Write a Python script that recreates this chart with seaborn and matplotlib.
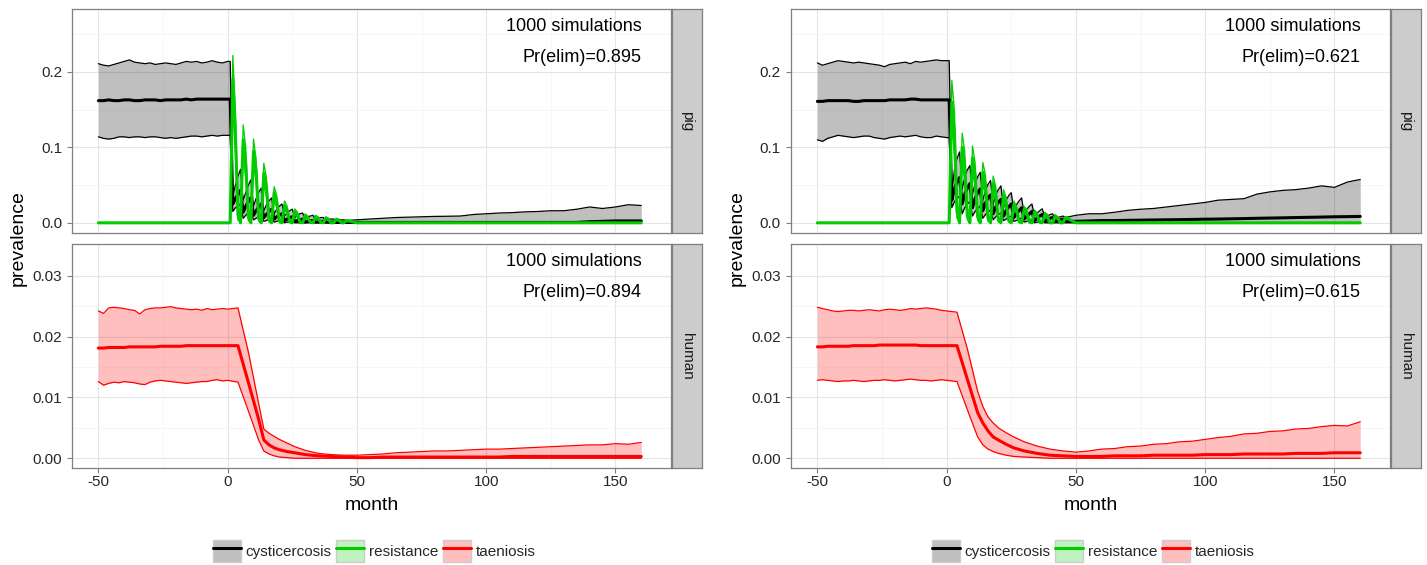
import matplotlib
matplotlib.use("Agg")
import matplotlib.pyplot as plt
import matplotlib.transforms as mtransforms
from matplotlib.patches import Patch
from matplotlib.lines import Line2D
import seaborn as sns

sns.set_theme(style="white")
plt.rcParams["font.family"] = ["Liberation Sans", "DejaVu Sans"]

# ---------------------------------------------------------------- data
# month grids (pig series need monthly resolution during the treatment rounds)
PIG_MONTHS = list(range(-50, 1, 2)) + list(range(1, 47)) + list(range(50, 161, 5))
HUMAN_MONTHS = (list(range(-50, 1, 2))
                + [4, 8, 12, 14, 16, 18, 20, 23, 26, 30, 35, 40, 45]
                + list(range(50, 161, 5)))

SERIES = ["cysticercosis", "resistance", "taeniosis"]
ROWS = ["pig", "human"]
SIM_TEXT = ["1000 simulations", "1000 simulations"]
ELIM_PIG = ["Pr(elim)=0.895", "Pr(elim)=0.621"]
ELIM_HUMAN = ["Pr(elim)=0.894", "Pr(elim)=0.615"]

X_TICKS = [-50, 0, 50, 100, 150]
X_TICK_LABELS = ["-50", "0", "50", "100", "150"]
PIG_Y_TICKS = [0.0, 0.1, 0.2]
PIG_Y_LABELS = ["0.0", "0.1", "0.2"]
HUMAN_Y_TICKS = [0.0, 0.01, 0.02, 0.03]
HUMAN_Y_LABELS = ["0.00", "0.01", "0.02", "0.03"]

# ---- scenario A (left) : pig cysticercosis
CYST_HI_A = ([0.211, 0.209, 0.208, 0.210, 0.212, 0.214, 0.216, 0.213, 0.212, 0.211, 0.212, 0.210, 0.211,
              0.212, 0.211, 0.210, 0.212, 0.214, 0.213, 0.214, 0.212, 0.213, 0.215, 0.213, 0.212, 0.214]
             + [0.214, 0.035, 0.050, 0.062,
                0.071, 0.030, 0.040, 0.050,
                0.057, 0.022, 0.032, 0.040,
                0.046, 0.016, 0.024, 0.029,
                0.033, 0.012, 0.018, 0.022,
                0.025, 0.009, 0.013, 0.016,
                0.018, 0.007, 0.010, 0.012,
                0.013, 0.005, 0.008, 0.009,
                0.010, 0.004, 0.006, 0.007,
                0.007, 0.003, 0.005, 0.005,
                0.005, 0.003, 0.004, 0.004,
                0.004, 0.003]
             + [0.004, 0.005, 0.006, 0.007, 0.0075, 0.008, 0.0085, 0.0087, 0.009, 0.011, 0.012, 0.013,
                0.0135, 0.0145, 0.015, 0.016, 0.016, 0.018, 0.021, 0.019, 0.021, 0.024, 0.023])
CYST_MED_A = ([0.162, 0.162, 0.163, 0.162, 0.162, 0.163, 0.163, 0.162, 0.162, 0.163, 0.163, 0.163, 0.162,
               0.163, 0.163, 0.163, 0.163, 0.164, 0.163, 0.164, 0.164, 0.164, 0.164, 0.164, 0.164, 0.164]
              + [0.164, 0.025, 0.032, 0.038,
                 0.043, 0.014, 0.022, 0.028,
                 0.033, 0.010, 0.016, 0.021,
                 0.025, 0.007, 0.011, 0.015,
                 0.018, 0.005, 0.008, 0.010,
                 0.012, 0.003, 0.005, 0.007,
                 0.008, 0.002, 0.003, 0.004,
                 0.005, 0.001, 0.002, 0.003,
                 0.003, 0.001, 0.001, 0.002,
                 0.002, 0.001, 0.001, 0.001,
                 0.001, 0.0005, 0.0005, 0.0005,
                 0.0005, 0.0005]
              + [0.0005, 0.0005, 0.0005, 0.0005, 0.0005, 0.0005, 0.0005, 0.0005, 0.0005, 0.0005, 0.0005,
                 0.0005, 0.0005, 0.0005, 0.0005, 0.0005, 0.0005, 0.0005, 0.0015, 0.002, 0.0025, 0.0025, 0.0025])
CYST_LO_A = ([0.114, 0.112, 0.111, 0.112, 0.114, 0.114, 0.113, 0.114, 0.114, 0.113, 0.114, 0.114, 0.113,
              0.112, 0.113, 0.112, 0.113, 0.114, 0.115, 0.115, 0.114, 0.115, 0.116, 0.115, 0.116, 0.116]
             + [0.116, 0.015, 0.020, 0.022,
                0.025, 0.006, 0.010, 0.013,
                0.015, 0.004, 0.006, 0.008,
                0.010, 0.002, 0.003, 0.005,
                0.006, 0.001, 0.002, 0.003,
                0.003, 0.0, 0.001, 0.001,
                0.001, 0.0, 0.0, 0.0,
                0.0, 0.0, 0.0, 0.0,
                0.0, 0.0, 0.0, 0.0,
                0.0, 0.0, 0.0, 0.0,
                0.0, 0.0, 0.0, 0.0,
                0.0, 0.0]
             + [0.0] * 23)

# ---- scenario A (left) : pig resistance
RES_HI_A = ([0.0] * 26
            + [0.0, 0.222, 0.150, 0.020,
               0.0, 0.130, 0.100, 0.015,
               0.0, 0.111, 0.085, 0.012,
               0.0, 0.079, 0.060, 0.008,
               0.0, 0.048, 0.036, 0.005,
               0.0, 0.029, 0.022, 0.004,
               0.0, 0.0185, 0.014, 0.003,
               0.0, 0.012, 0.009, 0.002,
               0.0, 0.010, 0.008, 0.002,
               0.0, 0.008, 0.006, 0.001,
               0.0, 0.006, 0.005, 0.001,
               0.0, 0.004]
            + [0.0] * 23)
RES_MED_A = ([0.0] * 26
             + [0.0, 0.190, 0.120, 0.010,
                0.0, 0.110, 0.080, 0.008,
                0.0, 0.095, 0.070, 0.006,
                0.0, 0.066, 0.048, 0.004,
                0.0, 0.040, 0.028, 0.003,
                0.0, 0.023, 0.017, 0.002,
                0.0, 0.015, 0.011, 0.001,
                0.0, 0.0095, 0.007, 0.001,
                0.0, 0.008, 0.006, 0.001,
                0.0, 0.006, 0.0045, 0.0,
                0.0, 0.0045, 0.0035, 0.0,
                0.0, 0.003]
             + [0.0] * 23)
RES_LO_A = ([0.0] * 26
            + [0.0, 0.160, 0.090, 0.004,
               0.0, 0.090, 0.060, 0.003,
               0.0, 0.075, 0.055, 0.002,
               0.0, 0.050, 0.035, 0.001,
               0.0, 0.030, 0.020, 0.0,
               0.0, 0.017, 0.012, 0.0,
               0.0, 0.011, 0.008, 0.0,
               0.0, 0.007, 0.005, 0.0,
               0.0, 0.006, 0.004, 0.0,
               0.0, 0.004, 0.003, 0.0,
               0.0, 0.003, 0.002, 0.0,
               0.0, 0.002]
            + [0.0] * 23)

# ---- scenario B (right) : pig cysticercosis
CYST_HI_B = ([0.212, 0.209, 0.211, 0.213, 0.215, 0.214, 0.213, 0.212, 0.213, 0.212, 0.211, 0.210, 0.209,
              0.207, 0.210, 0.211, 0.212, 0.213, 0.211, 0.214, 0.213, 0.214, 0.215, 0.216, 0.215, 0.215]
             + [0.215, 0.040, 0.070, 0.085,
                0.094, 0.045, 0.060, 0.070,
                0.076, 0.038, 0.052, 0.061,
                0.067, 0.030, 0.043, 0.051,
                0.056, 0.025, 0.037, 0.044,
                0.049, 0.020, 0.030, 0.036,
                0.040, 0.016, 0.024, 0.029,
                0.033, 0.012, 0.018, 0.022,
                0.025, 0.009, 0.013, 0.016,
                0.0186, 0.007, 0.009, 0.011,
                0.012, 0.005, 0.007, 0.008,
                0.009, 0.007]
             + [0.010, 0.012, 0.012, 0.014, 0.0165, 0.018, 0.019, 0.021, 0.023, 0.025, 0.027, 0.030,
                0.031, 0.032, 0.038, 0.041, 0.043, 0.044, 0.046, 0.049, 0.047, 0.054, 0.0575])
CYST_MED_B = ([0.161, 0.161, 0.162, 0.162, 0.162, 0.162, 0.162, 0.161, 0.161, 0.162, 0.162, 0.162, 0.162,
               0.162, 0.163, 0.163, 0.163, 0.163, 0.164, 0.164, 0.163, 0.163, 0.163, 0.163, 0.163, 0.163]
              + [0.163, 0.030, 0.045, 0.054,
                 0.060, 0.025, 0.038, 0.046,
                 0.052, 0.020, 0.032, 0.040,
                 0.045, 0.016, 0.026, 0.033,
                 0.037, 0.012, 0.021, 0.027,
                 0.031, 0.009, 0.016, 0.021,
                 0.025, 0.007, 0.012, 0.016,
                 0.020, 0.005, 0.009, 0.012,
                 0.015, 0.003, 0.006, 0.009,
                 0.011, 0.002, 0.004, 0.006,
                 0.007, 0.002, 0.003, 0.004,
                 0.005, 0.002]
              + [0.002, 0.0025, 0.003, 0.003, 0.0033, 0.0035, 0.0038, 0.004, 0.0042, 0.0045, 0.0048, 0.005,
                 0.0053, 0.0056, 0.006, 0.0063, 0.0066, 0.007, 0.0073, 0.0076, 0.008, 0.0082, 0.0085])
CYST_LO_B = ([0.110, 0.108, 0.112, 0.114, 0.116, 0.115, 0.114, 0.113, 0.114, 0.115, 0.115, 0.113, 0.112,
              0.111, 0.113, 0.114, 0.115, 0.114, 0.115, 0.116, 0.114, 0.113, 0.113, 0.115, 0.114, 0.113]
             + [0.113, 0.020, 0.028, 0.032,
                0.035, 0.012, 0.020, 0.025,
                0.028, 0.009, 0.015, 0.019,
                0.022, 0.006, 0.011, 0.014,
                0.017, 0.004, 0.008, 0.011,
                0.013, 0.003, 0.005, 0.007,
                0.009, 0.002, 0.003, 0.005,
                0.006, 0.001, 0.002, 0.003,
                0.004, 0.0, 0.001, 0.001,
                0.002, 0.0, 0.0, 0.0,
                0.0, 0.0, 0.0, 0.0,
                0.0, 0.0]
             + [0.0] * 23)

# ---- scenario B (right) : pig resistance
RES_HI_B = ([0.0] * 26
            + [0.0, 0.189, 0.150, 0.030,
               0.0, 0.119, 0.095, 0.020,
               0.0, 0.102, 0.080, 0.016,
               0.0, 0.080, 0.064, 0.012,
               0.0, 0.062, 0.048, 0.009,
               0.0, 0.044, 0.034, 0.006,
               0.0, 0.029, 0.022, 0.004,
               0.0, 0.022, 0.017, 0.003,
               0.0, 0.017, 0.013, 0.002,
               0.0, 0.014, 0.011, 0.002,
               0.0, 0.011, 0.008, 0.001,
               0.0, 0.0087]
            + [0.0] * 23)
RES_MED_B = ([0.0] * 26
             + [0.0, 0.160, 0.120, 0.015,
                0.0, 0.100, 0.075, 0.010,
                0.0, 0.086, 0.064, 0.008,
                0.0, 0.067, 0.050, 0.006,
                0.0, 0.052, 0.038, 0.004,
                0.0, 0.036, 0.027, 0.003,
                0.0, 0.024, 0.018, 0.002,
                0.0, 0.018, 0.013, 0.001,
                0.0, 0.014, 0.010, 0.001,
                0.0, 0.011, 0.008, 0.0,
                0.0, 0.009, 0.006, 0.0,
                0.0, 0.007]
             + [0.0] * 23)
RES_LO_B = ([0.0] * 26
            + [0.0, 0.130, 0.090, 0.006,
               0.0, 0.080, 0.055, 0.004,
               0.0, 0.068, 0.048, 0.003,
               0.0, 0.052, 0.037, 0.002,
               0.0, 0.040, 0.028, 0.001,
               0.0, 0.028, 0.020, 0.001,
               0.0, 0.018, 0.013, 0.0,
               0.0, 0.014, 0.010, 0.0,
               0.0, 0.011, 0.008, 0.0,
               0.0, 0.008, 0.006, 0.0,
               0.0, 0.007, 0.005, 0.0,
               0.0, 0.005]
            + [0.0] * 23)

# ---- human taeniosis, scenario A (left)
TAEN_MED_A = ([0.0181, 0.0181, 0.0182, 0.0182, 0.0182, 0.0182, 0.0183, 0.0183, 0.0183, 0.0183, 0.0183, 0.0183,
               0.0184, 0.0184, 0.0184, 0.0184, 0.0184, 0.0185, 0.0185, 0.0185, 0.0185, 0.0185, 0.0185, 0.0185,
               0.0185, 0.0185]
              + [0.0185, 0.0125, 0.0064, 0.0030, 0.0022, 0.0017, 0.0014, 0.0011, 0.0009, 0.0006, 0.0004,
                 0.0003, 0.0002]
              + [0.0001, 0.0001, 0.0002, 0.0002, 0.0002, 0.0002, 0.0002, 0.0002, 0.0002, 0.0002, 0.0002,
                 0.0002, 0.0003, 0.0003, 0.0003, 0.0003, 0.0003, 0.0003, 0.0003, 0.0003, 0.0003, 0.0003, 0.0003])
TAEN_HI_A = ([0.0242, 0.0238, 0.0247, 0.0248, 0.0247, 0.0246, 0.0244, 0.0243, 0.0237, 0.0244, 0.0246, 0.0247,
              0.0247, 0.0248, 0.0249, 0.0247, 0.0246, 0.0245, 0.0244, 0.0245, 0.0243, 0.0246, 0.0244, 0.0245,
              0.0246, 0.0245]
             + [0.0247, 0.0175, 0.0090, 0.0048, 0.0041, 0.0036, 0.0031, 0.0025, 0.0019, 0.0013, 0.0008,
                0.0006, 0.0005]
             + [0.0005, 0.0006, 0.0007, 0.0009, 0.0010, 0.0011, 0.0012, 0.0012, 0.0013, 0.0014, 0.0015,
                0.0015, 0.0016, 0.0017, 0.0018, 0.0019, 0.0020, 0.0021, 0.0022, 0.0022, 0.0024, 0.0023, 0.0026])
TAEN_LO_A = ([0.0126, 0.0120, 0.0123, 0.0125, 0.0124, 0.0126, 0.0125, 0.0124, 0.0122, 0.0121, 0.0125, 0.0127,
              0.0128, 0.0127, 0.0126, 0.0125, 0.0124, 0.0123, 0.0124, 0.0125, 0.0126, 0.0126, 0.0128, 0.0129,
              0.0127, 0.0128]
             + [0.0125, 0.0078, 0.0030, 0.0012, 0.0007, 0.0004, 0.0002, 0.0001, 0.0, 0.0, 0.0, 0.0, 0.0]
             + [0.0] * 23)

# ---- human taeniosis, scenario B (right)
TAEN_MED_B = ([0.0183, 0.0183, 0.0184, 0.0184, 0.0184, 0.0184, 0.0184, 0.0185, 0.0185, 0.0185, 0.0185, 0.0185,
               0.0186, 0.0186, 0.0186, 0.0186, 0.0186, 0.0186, 0.0186, 0.0186, 0.0185, 0.0185, 0.0185, 0.0185,
               0.0185, 0.0185]
              + [0.0185, 0.0130, 0.0075, 0.0058, 0.0045, 0.0035, 0.0030, 0.0023, 0.0017, 0.0012, 0.0008,
                 0.0005, 0.0004]
              + [0.0003, 0.0003, 0.0003, 0.0004, 0.0004, 0.0004, 0.0005, 0.0005, 0.0005, 0.0005, 0.0006,
                 0.0006, 0.0006, 0.0007, 0.0007, 0.0007, 0.0007, 0.0008, 0.0008, 0.0008, 0.0009, 0.0009, 0.0009])
TAEN_HI_B = ([0.0248, 0.0246, 0.0244, 0.0242, 0.0241, 0.0242, 0.0243, 0.0243, 0.0242, 0.0243, 0.0244, 0.0243,
              0.0242, 0.0244, 0.0245, 0.0244, 0.0243, 0.0244, 0.0246, 0.0245, 0.0246, 0.0247, 0.0246, 0.0245,
              0.0243, 0.0242]
             + [0.0240, 0.0180, 0.0110, 0.0085, 0.0068, 0.0058, 0.0050, 0.0042, 0.0035, 0.0027, 0.0020,
                0.0015, 0.0012]
             + [0.0010, 0.0012, 0.0015, 0.0016, 0.0019, 0.0020, 0.0023, 0.0024, 0.0027, 0.0028, 0.0031,
                0.0034, 0.0036, 0.0040, 0.0041, 0.0044, 0.0045, 0.0048, 0.0049, 0.0052, 0.0054, 0.0053, 0.0060])
TAEN_LO_B = ([0.0128, 0.0129, 0.0128, 0.0127, 0.0126, 0.0127, 0.0127, 0.0128, 0.0127, 0.0126, 0.0127, 0.0128,
              0.0128, 0.0129, 0.0128, 0.0127, 0.0128, 0.0129, 0.0130, 0.0129, 0.0128, 0.0128, 0.0127, 0.0128,
              0.0129, 0.0128]
             + [0.0126, 0.0080, 0.0035, 0.0022, 0.0015, 0.0011, 0.0008, 0.0005, 0.0003, 0.0002, 0.0001, 0.0, 0.0]
             + [0.0] * 23)

for arr in [CYST_HI_A, CYST_MED_A, CYST_LO_A, RES_HI_A, RES_MED_A, RES_LO_A,
            CYST_HI_B, CYST_MED_B, CYST_LO_B, RES_HI_B, RES_MED_B, RES_LO_B]:
    assert len(arr) == len(PIG_MONTHS), len(arr)
for arr in [TAEN_MED_A, TAEN_HI_A, TAEN_LO_A, TAEN_MED_B, TAEN_HI_B, TAEN_LO_B]:
    assert len(arr) == len(HUMAN_MONTHS), len(arr)

SCENARIOS = [
    dict(cyst=(CYST_LO_A, CYST_MED_A, CYST_HI_A), res=(RES_LO_A, RES_MED_A, RES_HI_A),
         taen=(TAEN_LO_A, TAEN_MED_A, TAEN_HI_A), elim_pig=ELIM_PIG[0], elim_human=ELIM_HUMAN[0]),
    dict(cyst=(CYST_LO_B, CYST_MED_B, CYST_HI_B), res=(RES_LO_B, RES_MED_B, RES_HI_B),
         taen=(TAEN_LO_B, TAEN_MED_B, TAEN_HI_B), elim_pig=ELIM_PIG[1], elim_human=ELIM_HUMAN[1]),
]

# ---------------------------------------------------------------- style
COLORS = {"cysticercosis": "#000000", "resistance": "#00CD00", "taeniosis": "#FF0000"}
FILL_ALPHA = 0.25
BORDER = "#7F7F7F"
TICK_TEXT = "#262626"
W, H = 1427, 565

fig = plt.figure(figsize=(W / 100, H / 100), dpi=100)


def rect(x0, y0, x1, y1):
    return [x0 / W, 1 - y1 / H, (x1 - x0) / W, (y1 - y0) / H]


def band(ax, months, lo, med, hi, color, z):
    ax.fill_between(months, lo, hi, color=color, alpha=FILL_ALPHA, linewidth=0, zorder=z)
    sns.lineplot(x=months, y=lo, ax=ax, color=color, linewidth=0.9, estimator=None,
                 sort=False, legend=False, zorder=z + 0.05)
    sns.lineplot(x=months, y=hi, ax=ax, color=color, linewidth=0.9, estimator=None,
                 sort=False, legend=False, zorder=z + 0.05)


def median(ax, months, med, color, z):
    sns.lineplot(x=months, y=med, ax=ax, color=color, linewidth=2.2, estimator=None,
                 sort=False, legend=False, zorder=z)


def style(ax, yticks, ylabels, ylim, yminor, bottom):
    ax.set_xlim(-60.2, 171.5)
    ax.set_ylim(*ylim)
    ax.set_facecolor("white")
    ax.set_xticks(X_TICKS)
    ax.set_xticks([-25, 25, 75, 125], minor=True)
    ax.set_yticks(yticks)
    ax.set_yticklabels(ylabels)
    ax.set_yticks(yminor, minor=True)
    ax.grid(True, which="major", color="#E5E5E5", linewidth=0.8)
    ax.grid(True, which="minor", color="#F5F5F5", linewidth=0.6)
    ax.set_axisbelow(True)
    for s in ax.spines.values():
        s.set_visible(True)
        s.set_color(BORDER)
        s.set_linewidth(0.9)
    ax.tick_params(which="minor", length=0)
    ax.tick_params(axis="y", which="major", left=True, length=3.6, width=0.8, color=BORDER,
                   pad=3.6, labelsize=11, labelcolor=TICK_TEXT)
    if bottom:
        ax.set_xticklabels(X_TICK_LABELS)
        ax.tick_params(axis="x", which="major", bottom=True, length=3.6, width=0.8, color=BORDER,
                       pad=1.5, labelsize=11, labelcolor=TICK_TEXT)
    else:
        ax.tick_params(axis="x", which="major", bottom=False, labelbottom=False, length=0)
    ax.set_xlabel("")
    ax.set_ylabel("")


def strip(x0, y0, x1, y1, label):
    sa = fig.add_axes(rect(x0, y0, x1, y1))
    sa.set_facecolor("#CCCCCC")
    sa.set_xticks([])
    sa.set_yticks([])
    for s in sa.spines.values():
        s.set_visible(True)
        s.set_color(BORDER)
        s.set_linewidth(0.9)
    sa.text(0.5, 0.5, label, rotation=-90, ha="center", va="center",
            fontsize=11, color="#1A1A1A", transform=sa.transAxes)


def annotate(ax, line1, line2):
    tr = mtransforms.blended_transform_factory(ax.transData, ax.transAxes)
    ax.text(160, 0.92, line1, transform=tr, ha="right", va="center", fontsize=13, color="black")
    ax.text(160, 0.785, line2, transform=tr, ha="right", va="center", fontsize=13, color="black")


for i, sc in enumerate(SCENARIOS):
    off = i * 719
    ax_pig = fig.add_axes(rect(72 + off, 9, 671 + off, 233))
    ax_hum = fig.add_axes(rect(72 + off, 244, 671 + off, 468))

    # pig row
    lo, med, hi = sc["cyst"]
    band(ax_pig, PIG_MONTHS, lo, med, hi, COLORS["cysticercosis"], 1.0)
    rlo, rmed, rhi = sc["res"]
    band(ax_pig, PIG_MONTHS, rlo, rmed, rhi, COLORS["resistance"], 1.2)
    median(ax_pig, PIG_MONTHS, med, COLORS["cysticercosis"], 2.0)
    median(ax_pig, PIG_MONTHS, rmed, COLORS["resistance"], 2.1)
    style(ax_pig, PIG_Y_TICKS, PIG_Y_LABELS, (-0.0135, 0.2835), [0.05, 0.15, 0.25], False)
    annotate(ax_pig, SIM_TEXT[i], sc["elim_pig"])

    # human row
    tlo, tmed, thi = sc["taen"]
    band(ax_hum, HUMAN_MONTHS, tlo, tmed, thi, COLORS["taeniosis"], 1.0)
    median(ax_hum, HUMAN_MONTHS, tmed, COLORS["taeniosis"], 2.0)
    style(ax_hum, HUMAN_Y_TICKS, HUMAN_Y_LABELS, (-0.0016, 0.0352), [0.005, 0.015, 0.025], True)
    annotate(ax_hum, SIM_TEXT[i], sc["elim_human"])

    strip(672 + off, 9, 702 + off, 233, ROWS[0])
    strip(672 + off, 244, 702 + off, 468, ROWS[1])

    fig.text((18 + off) / W, 1 - 238.5 / H, "prevalence", rotation=90, ha="center", va="center",
             fontsize=14, color="black")
    fig.text((371.5 + off) / W, 1 - 506 / H, "month", ha="center", va="center", fontsize=14,
             color="black")

    handles = []
    for name in SERIES:
        c = COLORS[name]
        handles.append((Patch(facecolor=c, alpha=FILL_ALPHA, edgecolor="none"),
                        Patch(facecolor="none", edgecolor="#CCCCCC", linewidth=1.0),
                        Line2D([], [], color=c, linewidth=2.2)))
    fig.legend(handles, SERIES, loc="center", bbox_to_anchor=((374 + off) / W, 1 - 551 / H),
               ncol=3, frameon=False, fontsize=11, handlelength=1.85, handleheight=1.8,
               handletextpad=0.3, columnspacing=0.3, borderpad=0, borderaxespad=0)

fig.savefig("out.png", dpi=100, facecolor="white")
